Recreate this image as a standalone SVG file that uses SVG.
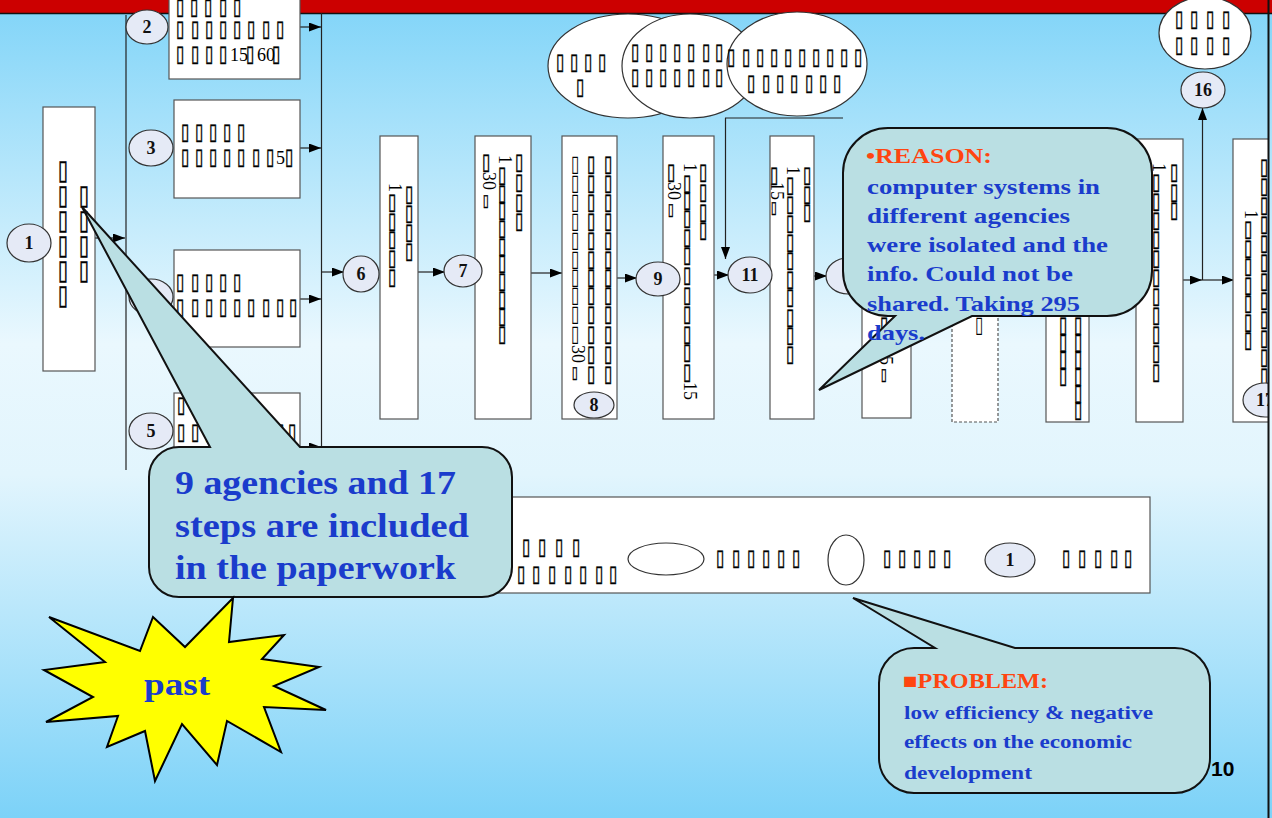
<svg xmlns="http://www.w3.org/2000/svg" width="1272" height="818" viewBox="0 0 1272 818">
<defs>
<linearGradient id="bg" x1="0" y1="0" x2="0" y2="1">
<stop offset="0" stop-color="#80d4f8"/>
<stop offset="0.42" stop-color="#eaf8fe"/>
<stop offset="0.58" stop-color="#e2f5fd"/>
<stop offset="1" stop-color="#7cd2f8"/>
</linearGradient>
<marker id="ah" viewBox="0 0 12 9" refX="12" refY="4.5" markerWidth="12" markerHeight="9" markerUnits="userSpaceOnUse" orient="auto"><path d="M0,0L12,4.5L0,9z" fill="#000"/></marker>
<clipPath id="cp"><rect x="0" y="0" width="1268" height="818"/></clipPath>
<style>
.bx{fill:#fff;stroke:#555;stroke-width:1.2}
.dx{fill:#fff;stroke:#555;stroke-width:1.2;stroke-dasharray:3 2}
.el{fill:#e5eaf6;stroke:#333;stroke-width:1.2}
.cl{fill:#fff;stroke:#333;stroke-width:1.2}
.lb{font-family:"Liberation Serif",serif;font-weight:bold;font-size:18px;text-anchor:middle;fill:#111}
.t{font-family:"DejaVu Sans",sans-serif;font-size:15px;fill:#000;stroke:#000;stroke-width:0.35}
.tl{font-family:"DejaVu Sans",sans-serif;font-size:15px;fill:#000}
.ts{font-family:"DejaVu Sans",sans-serif;font-size:11px;fill:#000;stroke:#000;stroke-width:0.3}
.tb{font-family:"DejaVu Sans",sans-serif;font-size:18px;fill:#000;stroke:#000;stroke-width:0.4}
.n{font-family:"Liberation Serif",serif;font-size:18px;fill:#000}
.ln{stroke:#222;stroke-width:1.2;fill:none}
.ar{stroke:#222;stroke-width:1.2;fill:none;marker-end:url(#ah)}
.co{fill:#badfe3;stroke:#111;stroke-width:2}
.bl{font-family:"Liberation Serif",serif;font-weight:bold;fill:#1a3ccc}
.or{font-family:"Liberation Serif",serif;font-weight:bold;fill:#ff4510}
</style>
</defs>
<rect x="0" y="0" width="1272" height="818" fill="url(#bg)"/>
<rect x="0" y="0" width="1272" height="13" fill="#cc0000"/>
<line x1="0" y1="13.5" x2="1272" y2="13.5" stroke="#111" stroke-width="1.5"/>
<g clip-path="url(#cp)">
<g id="connectors">
<line class="ar" x1="95" y1="238" x2="125" y2="238"/>
<line class="ln" x1="126" y1="15" x2="126" y2="470"/>
<line class="ln" x1="321.5" y1="13" x2="321.5" y2="452"/>
<line class="ar" x1="300" y1="27" x2="321" y2="27"/>
<line class="ar" x1="300" y1="148" x2="321" y2="148"/>
<line class="ar" x1="300" y1="299" x2="321" y2="299"/>
<line class="ar" x1="300" y1="447" x2="321" y2="447"/>
<line class="ar" x1="321" y1="272" x2="344" y2="272"/>
<line class="ar" x1="418" y1="272" x2="445" y2="272"/>
<line class="ar" x1="531" y1="273" x2="562" y2="273"/>
<line class="ar" x1="617" y1="278" x2="637" y2="278"/>
<line class="ar" x1="714" y1="275" x2="729" y2="275"/>
<line class="ar" x1="725.5" y1="118" x2="725.5" y2="259"/>
<line class="ln" x1="725" y1="118" x2="843" y2="118"/>
<line class="ar" x1="814" y1="276" x2="827" y2="276"/>
<line class="ar" x1="1183" y1="280" x2="1202" y2="280"/>
<line class="ar" x1="1202" y1="280" x2="1234" y2="280"/>
<line class="ar" x1="1202.5" y1="280" x2="1202.5" y2="108"/>
</g>
<g id="n1">
<rect class="bx" x="43" y="107" width="52" height="264"/>
<text class="tb" transform="scale(1,1.5)" x="58 58 58 58 58 58" y="119.33 136 152.67 169.33 186 202.67">▯▯▯▯▯▯</text>
<text class="tb" transform="scale(1,1.5)" x="79 79 79 79" y="136 152.67 169.33 186">▯▯▯▯</text>
<ellipse class="el" cx="29" cy="243" rx="22" ry="19"/>
<text class="lb" x="29" y="249">1</text>
</g>
<g id="n2">
<rect class="bx" x="169" y="-5" width="131" height="84"/>
<text class="t" transform="scale(1,1.5)" x="176 190 204 219 233" y="9.33">▯▯▯▯▯</text>
<text class="t" transform="scale(1,1.5)" x="176 191 205 219 233 247 262 276" y="24">▯▯▯▯▯▯▯▯</text>
<text class="t" transform="scale(1,1.5)" x="176 191 205 219 246 272" y="40.67">▯▯▯▯▯▯</text>
<text class="n" x="230" y="61">15</text>
<text class="n" x="257" y="61">60</text>
<ellipse class="el" cx="147" cy="27" rx="21" ry="17"/>
<text class="lb" x="147" y="33">2</text>
</g>
<g id="n3">
<rect class="bx" x="174" y="100" width="126" height="98"/>
<text class="t" transform="scale(1,1.5)" x="181 195 209 223 237" y="92.67">▯▯▯▯▯</text>
<text class="t" transform="scale(1,1.5)" x="181 195 209 223 237 252 266 285" y="109.33">▯▯▯▯▯▯▯▯</text>
<text class="n" x="276" y="164">5</text>
<ellipse class="el" cx="151" cy="148" rx="22" ry="18"/>
<text class="lb" x="151" y="154">3</text>
</g>
<g id="n4">
<rect class="bx" x="174" y="250" width="126" height="97"/>
<text class="t" transform="scale(1,1.5)" x="176 191 205 219 233" y="192.67">▯▯▯▯▯</text>
<text class="t" transform="scale(1,1.5)" x="176 191 205 219 233 247 262 276 289" y="209.33">▯▯▯▯▯▯▯▯▯</text>
<ellipse class="el" cx="151" cy="297" rx="22" ry="18"/>
</g>
<g id="n5">
<rect class="bx" x="174" y="393" width="126" height="90"/>
<text class="t" transform="scale(1,1.5)" x="177 191 205 219" y="274.67">▯▯▯▯</text>
<text class="t" transform="scale(1,1.5)" x="177 191 205 219 233 247 262 276 288" y="292.67">▯▯▯▯▯▯▯▯▯</text>
<ellipse class="el" cx="151" cy="431" rx="22" ry="18"/>
<text class="lb" x="151" y="437">5</text>
</g>
<g id="n6">
<rect class="bx" x="380" y="136" width="38" height="283"/>
<text class="n" transform="translate(389,183) rotate(90)">1</text>
<text class="t" transform="scale(1,1.5)" x="388 388 388 388 388" y="139.33 152 164 176.67 189.33">▯▯▯▯▯</text>
<text class="t" transform="scale(1,1.5)" x="405 405 405 405" y="134 146.67 159.33 172">▯▯▯▯</text>
<ellipse class="el" cx="361" cy="274" rx="18" ry="18"/>
<text class="lb" x="361" y="280">6</text>
</g>
<g id="n7">
<rect class="bx" x="475" y="136" width="56" height="283"/>
<text class="t" transform="scale(1,1.5)" x="482" y="112.67">▯</text>
<text class="n" transform="translate(483,172) rotate(90)">30</text>
<text class="ts" transform="scale(1,1.5)" x="483" y="137.33">▯</text>
<text class="n" transform="translate(499,155) rotate(90)">1</text>
<text class="t" transform="scale(1,1.5)" x="498 498 498 498 498 498 498 498 498 498" y="121.33 133.33 144.67 156.67 168.67 180 192 204 215.33 227.33">▯▯▯▯▯▯▯▯▯▯</text>
<text class="t" transform="scale(1,1.5)" x="515 515 515 515" y="112.67 126 139.33 152">▯▯▯▯</text>
<ellipse class="el" cx="463" cy="271" rx="19" ry="16"/>
<text class="lb" x="463" y="277">7</text>
</g>
<g id="n8">
<rect class="bx" x="562" y="136" width="55" height="283"/>
<text class="tl" transform="scale(1,1.5)" x="571 571 571 571 571 571 571 571 571 571" y="114 126.67 139.33 152 164.67 177.33 189.33 201.33 214 227.33">▯▯▯▯▯▯▯▯▯▯</text>
<text class="n" transform="translate(572,345) rotate(90)">30</text>
<text class="ts" transform="scale(1,1.5)" x="572" y="252">▯</text>
<text class="t" transform="scale(1,1.5)" x="587 587 587 587 587 587 587 587 587 587 587 587" y="114 126.67 139.33 152 164.67 177.33 189.33 201.33 214 227.33 240.67 254">▯▯▯▯▯▯▯▯▯▯▯▯</text>
<text class="t" transform="scale(1,1.5)" x="604 604 604 604 604 604 604 604 604 604 604 604" y="114 126.67 139.33 152 164.67 177.33 189.33 201.33 214 227.33 240.67 254">▯▯▯▯▯▯▯▯▯▯▯▯</text>
<ellipse class="el" cx="594" cy="405" rx="20" ry="13"/>
<text class="lb" x="594" y="411">8</text>
</g>
<g id="n9">
<rect class="bx" x="663" y="136" width="51" height="283"/>
<text class="t" transform="scale(1,1.5)" x="667" y="119.33">▯</text>
<text class="n" transform="translate(668,182) rotate(90)">30</text>
<text class="ts" transform="scale(1,1.5)" x="668" y="143.33">▯</text>
<text class="n" transform="translate(684,163) rotate(90)">1</text>
<text class="t" transform="scale(1,1.5)" x="683 683 683 683 683 683 683 683 683 683 683" y="126.67 138 150 162.67 174.67 188 201.33 214 227.33 239.33 252.67">▯▯▯▯▯▯▯▯▯▯▯</text>
<text class="n" transform="translate(684,382) rotate(90)">15</text>
<text class="t" transform="scale(1,1.5)" x="699 699 699 699" y="119.33 132.67 146 158">▯▯▯▯</text>
<ellipse class="el" cx="658" cy="279" rx="22" ry="17"/>
<text class="lb" x="658" y="285">9</text>
</g>
<g id="n10">
<ellipse class="cl" cx="628" cy="66" rx="80" ry="52"/>
<text class="t" transform="scale(1,1.5)" x="556 570 584 598" y="46">▯▯▯▯</text>
<text class="t" transform="scale(1,1.5)" x="576" y="62.67">▯</text>
<ellipse class="cl" cx="690" cy="66" rx="68" ry="52"/>
<text class="t" transform="scale(1,1.5)" x="631 645 659 673 687 702 715" y="39.33">▯▯▯▯▯▯▯</text>
<text class="t" transform="scale(1,1.5)" x="631 645 659 673 687 702 715" y="56">▯▯▯▯▯▯▯</text>
<ellipse class="cl" cx="797" cy="64" rx="70" ry="52"/>
<text class="t" transform="scale(1,1.5)" x="727 742 756 770 784 798 812 826 840 854" y="42.67">▯▯▯▯▯▯▯▯▯▯</text>
<text class="t" transform="scale(1,1.5)" x="747 762 776 790 805 819 833" y="60">▯▯▯▯▯▯▯</text>
</g>
<g id="n11">
<rect class="bx" x="770" y="136" width="44" height="283"/>
<text class="t" transform="scale(1,1.5)" x="770" y="121.33">▯</text>
<text class="n" transform="translate(771,182) rotate(90)">15</text>
<text class="ts" transform="scale(1,1.5)" x="771" y="142">▯</text>
<text class="n" transform="translate(787,166) rotate(90)">1</text>
<text class="t" transform="scale(1,1.5)" x="786 786 786 786 786 786 786 786 786 786" y="128 140.67 153.33 166 178 190.67 202.67 216 228 240.67">▯▯▯▯▯▯▯▯▯▯</text>
<text class="t" transform="scale(1,1.5)" x="803 803 803" y="121.33 134 146">▯▯▯</text>
<ellipse class="el" cx="750" cy="275" rx="22" ry="18"/>
<text class="lb" x="750" y="281">11</text>
</g>
<g id="n12">
<rect class="bx" x="862" y="139" width="49" height="279"/>
<text class="t" transform="scale(1,1.5)" x="880" y="221.33">▯</text>
<text class="n" transform="translate(880,356) rotate(90)">5</text>
<text class="ts" transform="scale(1,1.5)" x="881" y="253.33">▯</text>
<ellipse class="el" cx="848" cy="276" rx="22" ry="18"/>
</g>
<g id="n13">
<rect class="dx" x="952" y="139" width="46" height="283"/>
<text class="tl" transform="scale(1,1.5)" x="975" y="221.33">▯</text>
</g>
<g id="n14">
<rect class="bx" x="1046" y="139" width="43" height="283"/>
<text class="t" transform="scale(1,1.5)" x="1059 1059 1059 1059" y="221.33 232.67 244 255.33">▯▯▯▯</text>
<text class="t" transform="scale(1,1.5)" x="1074 1074 1074 1074 1074 1074" y="221.33 232.67 244 255.33 266.67 278">▯▯▯▯▯▯</text>
</g>
<g id="n15">
<rect class="bx" x="1136" y="139" width="47" height="283"/>
<text class="n" transform="translate(1153,163) rotate(90)">1</text>
<text class="t" transform="scale(1,1.5)" x="1152 1152 1152 1152 1152 1152 1152 1152 1152 1152 1152" y="126 138.67 151.33 164 176.67 189.33 202 214.67 227.33 240 252.67">▯▯▯▯▯▯▯▯▯▯▯</text>
<text class="t" transform="scale(1,1.5)" x="1170 1170 1170" y="119.33 132.67 144.67">▯▯▯</text>
</g>
<g id="n16">
<ellipse class="cl" cx="1205" cy="33" rx="46" ry="36"/>
<text class="t" transform="scale(1,1.5)" x="1175 1190 1206 1222" y="17.33">▯▯▯▯</text>
<text class="t" transform="scale(1,1.5)" x="1175 1190 1206 1222" y="34.67">▯▯▯▯</text>
<ellipse class="el" cx="1203" cy="90" rx="22" ry="18"/>
<text class="lb" x="1203" y="96">16</text>
</g>
<g id="n17">
<rect class="bx" x="1233" y="139" width="60" height="283"/>
<text class="n" transform="translate(1245,210) rotate(90)">1</text>
<text class="t" transform="scale(1,1.5)" x="1244 1244 1244 1244 1244 1244 1244" y="157.33 170 182 194.67 206.67 219.33 231.33">▯▯▯▯▯▯▯</text>
<text class="t" transform="scale(1,1.5)" x="1260 1260 1260 1260 1260 1260 1260 1260 1260 1260 1260 1260" y="116 128.67 141.33 154 166.67 179.33 192 204.67 217.33 230 242.67 255.33">▯▯▯▯▯▯▯▯▯▯▯▯</text>
<ellipse class="el" cx="1265" cy="400" rx="22" ry="17"/>
<text class="lb" x="1265" y="406">17</text>
</g>
<g id="legend">
<rect class="bx" x="470" y="497" width="680" height="96"/>
<text class="t" transform="scale(1,1.5)" x="522 538 555 572" y="369.33">▯▯▯▯</text>
<text class="t" transform="scale(1,1.5)" x="517 532 548 564 579 595 609" y="387.33">▯▯▯▯▯▯▯</text>
<ellipse class="cl" cx="666" cy="559" rx="38" ry="16"/>
<text class="t" transform="scale(1,1.5)" x="716 732 747 762 777 792" y="376.67">▯▯▯▯▯▯</text>
<ellipse class="cl" cx="846" cy="560" rx="18" ry="25"/>
<text class="t" transform="scale(1,1.5)" x="883 898 913 928 943" y="376.67">▯▯▯▯▯</text>
<ellipse class="el" cx="1010" cy="560" rx="25" ry="17"/>
<text class="lb" x="1010" y="566">1</text>
<text class="t" transform="scale(1,1.5)" x="1062 1078 1094 1110 1124" y="376.67">▯▯▯▯▯</text>
</g>
<g id="callout-agencies">
<path class="co" d="M179,447 L210,447 L82,207 L300,447 L482,447 A30,30 0 0 1 512,477 L512,567 A30,30 0 0 1 482,597 L179,597 A30,30 0 0 1 149,567 L149,477 A30,30 0 0 1 179,447 Z"/>
<text class="bl" font-size="34" x="175" y="494" textLength="281" lengthAdjust="spacingAndGlyphs">9 agencies and 17</text>
<text class="bl" font-size="34" x="175" y="537" textLength="294" lengthAdjust="spacingAndGlyphs">steps are included</text>
<text class="bl" font-size="34" x="175" y="579" textLength="281" lengthAdjust="spacingAndGlyphs">in the paperwork</text>
</g>
<g id="callout-reason">
<path class="co" d="M888,128 L1107,128 A45,45 0 0 1 1152,173 L1152,271 A45,45 0 0 1 1107,316 L972,316 L819,390 L895,316 L888,316 A45,45 0 0 1 843,271 L843,173 A45,45 0 0 1 888,128 Z"/>
<text class="or" font-size="22" x="866" y="163" textLength="126" lengthAdjust="spacingAndGlyphs">•REASON:</text>
<text class="bl" font-size="22" x="867" y="194" textLength="233" lengthAdjust="spacingAndGlyphs">computer systems in</text>
<text class="bl" font-size="22" x="867" y="223" textLength="203" lengthAdjust="spacingAndGlyphs">different agencies</text>
<text class="bl" font-size="22" x="867" y="252" textLength="241" lengthAdjust="spacingAndGlyphs">were isolated and the</text>
<text class="bl" font-size="22" x="867" y="281" textLength="206" lengthAdjust="spacingAndGlyphs">info. Could not be</text>
<text class="bl" font-size="22" x="867" y="311" textLength="213" lengthAdjust="spacingAndGlyphs">shared. Taking 295</text>
<text class="bl" font-size="22" x="867" y="340" textLength="58" lengthAdjust="spacingAndGlyphs">days.</text>
</g>
<g id="callout-problem">
<path class="co" d="M914,648 L935,648 L853,598 L1015,648 L1175,648 A35,35 0 0 1 1210,683 L1210,758 A35,35 0 0 1 1175,793 L914,793 A35,35 0 0 1 879,758 L879,683 A35,35 0 0 1 914,648 Z"/>
<text class="or" font-size="21" x="903" y="688" textLength="145" lengthAdjust="spacingAndGlyphs">■PROBLEM:</text>
<text class="bl" font-size="18" x="904" y="719" textLength="249" lengthAdjust="spacingAndGlyphs">low efficiency &amp; negative</text>
<text class="bl" font-size="18" x="904" y="748" textLength="228" lengthAdjust="spacingAndGlyphs">effects on the economic</text>
<text class="bl" font-size="18" x="904" y="779" textLength="128" lengthAdjust="spacingAndGlyphs">development</text>
</g>
<g id="star">
<polygon points="49,617 140,651 153,617 185,647 233,598 229,642 284,635 262,659 319,667 274,686 326,710 264,707 281,752 227,721 217,765 182,724 155,781 145,731 107,747 118,716 46,722 93,697 44,670 105,662" fill="#ffff00" stroke="#000" stroke-width="2" stroke-linejoin="miter"/>
<text class="bl" font-size="31" x="144" y="695" textLength="66" lengthAdjust="spacingAndGlyphs">past</text>
</g>
<text x="1211" y="776" font-family="Liberation Sans, Arial, sans-serif" font-weight="bold" font-size="21" fill="#000">10</text>
</g>
<line x1="1268.5" y1="0" x2="1268.5" y2="818" stroke="#111" stroke-width="2"/>
</svg>
